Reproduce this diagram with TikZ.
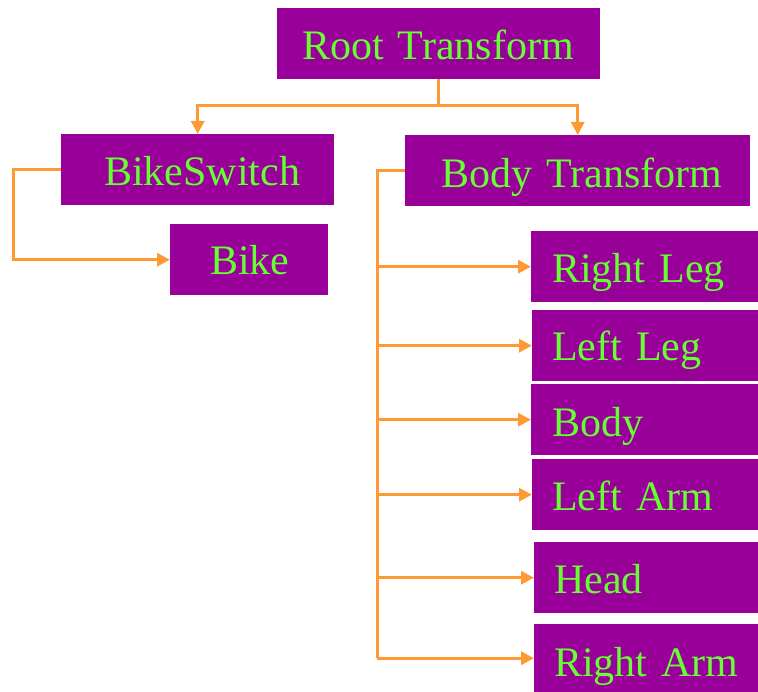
\documentclass[tikz,border=0pt]{standalone}
\usepackage{fontspec}
\setmainfont{Liberation Serif}
\usetikzlibrary{arrows.meta}
\definecolor{boxpurple}{HTML}{990099}
\definecolor{labelgreen}{HTML}{66FF33}
\definecolor{linkorange}{HTML}{FF9933}
\tikzset{
  tbox/.style={fill=boxpurple, text=labelgreen, draw=none,
    font=\fontsize{42}{42}\selectfont, inner xsep=0pt, inner ysep=0pt,
    align=left, anchor=north west},
  link/.style={draw=linkorange, line width=3pt},
  linkarrow/.style={link, -{Triangle[width=13pt,length=13pt]}},
}
\begin{document}
\begin{tikzpicture}[x=1pt,y=-1pt]
\useasboundingbox (0,0) rectangle (758,692);

% boxes: width, baseline offset (text height), depth, left padding
\node[tbox, text width=323pt, text height=51pt, text depth=20pt] (root) at (277,8) {\hspace*{25pt}Root Transform};
\node[tbox, text width=273pt, text height=51pt, text depth=20pt] (bswitch) at (61,134) {\hspace*{43pt}BikeSwitch};
\node[tbox, text width=158pt, text height=50pt, text depth=21pt] (bike) at (170,224) {\hspace*{40pt}Bike};
\node[tbox, text width=345pt, text height=52pt, text depth=19pt] (btrans) at (405,135) {\hspace*{36pt}Body Transform};

\node[tbox, text width=227pt, text height=51pt, text depth=20pt] (rleg) at (531,231) {\hspace*{21pt}Right Leg};
\node[tbox, text width=226pt, text height=50pt, text depth=21pt] (lleg) at (532,310) {\hspace*{20pt}Left Leg};
\node[tbox, text width=227pt, text height=52pt, text depth=19pt] (body) at (531,384) {\hspace*{21pt}Body};
\node[tbox, text width=226pt, text height=51pt, text depth=20pt] (larm) at (532,459) {\hspace*{20pt}Left Arm};
\node[tbox, text width=224pt, text height=51pt, text depth=20pt] (head) at (534,542) {\hspace*{20pt}Head};
\node[tbox, text width=224pt, text height=52pt, text depth=16pt] (rarm) at (534,624) {\hspace*{20pt}Right Arm};

% root to its two children
\coordinate (fork) at (0,106);
\draw[link] (root.south) -- (root.south |- fork);
\draw[linkarrow] (root.south |- fork) -| (bswitch.north);
\draw[linkarrow] (root.south |- fork) -| (btrans.north);

% bike switch to bike
\coordinate (leftrail) at (13,0);
\draw[linkarrow] (bswitch.west) -| (leftrail |- bike.west) -- (bike.west);

% body transform to its parts
\coordinate (spine) at (377,0);
\draw[link] (btrans.west) -| (spine |- rarm.west);
\foreach \part in {rleg,lleg,body,larm,head,rarm}
  \draw[linkarrow] (spine |- \part.west) -- (\part.west);
\end{tikzpicture}
\end{document}
